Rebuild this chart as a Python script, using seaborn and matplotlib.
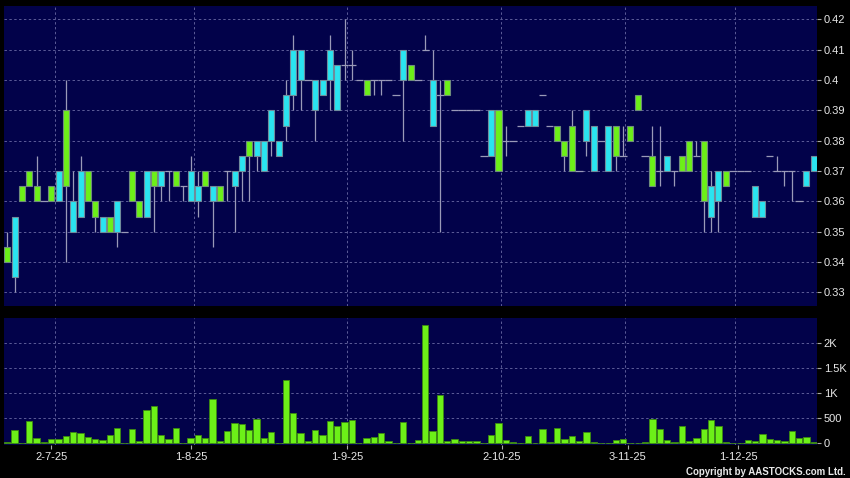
import numpy as np
import pandas as pd
import seaborn as sns
import matplotlib.pyplot as plt
from matplotlib.ticker import FuncFormatter

# daily OHLC (one entry per trading day shown)
opens = [.345, .335, .365, .37, .365, .36, .365, .36, .39, .35,
         .355, .37, .36, .35, .355, .35, .35, .37, .36, .355,
         .37, .365, .37, .37, .365, .36, .36, .37, .36, .365,
         .37, .365, .37, .38, .375, .37, .38, .375, .385, .395,
         .40, .40, .39, .395, .40, .39, .405, .405, .40, .40,
         .40, .40, .40, .395, .40, .405, .40, .41, .385, .395,
         .40, .39, .39, .39, .39, .375, .375, .39, .38, .38,
         .385, .385, .385, .395, .385, .385, .38, .385, .37, .38,
         .37, .38, .37, .385, .375, .385, .395, .375, .375, .37,
         .37, .37, .375, .38, .375, .38, .355, .36, .37, .37,
         .37, .37, .355, .355, .375, .37, .37, .37, .36, .365,
         .37]
highs = [.35, .355, .365, .37, .375, .36, .365, .37, .40, .37,
         .375, .37, .36, .355, .355, .36, .35, .37, .36, .37,
         .37, .37, .37, .37, .365, .375, .37, .37, .365, .365,
         .37, .37, .375, .38, .38, .38, .39, .38, .40, .415,
         .41, .40, .40, .40, .415, .405, .42, .41, .40, .40,
         .40, .40, .40, .395, .41, .405, .40, .415, .41, .40,
         .40, .39, .39, .39, .39, .375, .39, .39, .385, .38,
         .385, .39, .39, .395, .385, .385, .38, .39, .37, .39,
         .385, .38, .385, .385, .385, .385, .395, .375, .385, .385,
         .375, .37, .375, .38, .38, .38, .37, .37, .37, .37,
         .37, .37, .365, .36, .375, .375, .37, .37, .36, .37,
         .375]
lows = [.34, .33, .36, .365, .36, .36, .36, .36, .34, .35,
        .355, .36, .35, .35, .35, .345, .35, .36, .355, .355,
        .35, .36, .36, .365, .36, .36, .355, .365, .345, .36,
        .36, .35, .36, .36, .37, .37, .375, .375, .38, .39,
        .39, .40, .38, .395, .39, .39, .40, .40, .40, .395,
        .395, .395, .40, .395, .38, .40, .40, .41, .385, .35,
        .395, .39, .39, .39, .39, .375, .375, .37, .375, .38,
        .385, .385, .385, .395, .385, .38, .37, .37, .37, .375,
        .37, .38, .37, .37, .375, .38, .39, .375, .365, .365,
        .37, .365, .37, .37, .375, .35, .35, .35, .365, .37,
        .37, .37, .355, .355, .375, .37, .365, .36, .36, .365,
        .37]
closes = [.34, .355, .36, .365, .36, .36, .36, .37, .365, .36,
          .37, .36, .355, .355, .35, .36, .35, .36, .355, .37,
          .365, .37, .37, .365, .365, .37, .365, .365, .365, .36,
          .37, .37, .375, .375, .38, .38, .39, .38, .395, .41,
          .41, .40, .40, .40, .41, .405, .405, .405, .40, .395,
          .40, .40, .40, .395, .41, .40, .40, .41, .40, .395,
          .395, .39, .39, .39, .39, .375, .39, .37, .38, .38,
          .385, .39, .39, .395, .385, .38, .375, .37, .37, .39,
          .385, .38, .385, .375, .375, .38, .39, .375, .365, .37,
          .375, .37, .37, .37, .375, .36, .365, .37, .365, .37,
          .37, .37, .365, .36, .375, .37, .37, .37, .36, .37,
          .375]
volume = [27, 267, 13, 447, 100, 27, 93, 93, 153, 220,
          200, 127, 93, 60, 173, 300, 0, 293, 47, 667,
          747, 173, 87, 300, 0, 100, 160, 107, 880, 53,
          253, 407, 387, 267, 493, 113, 220, 3, 1267, 607,
          207, 40, 273, 167, 453, 340, 427, 467, 0, 100,
          120, 200, 47, 7, 427, 7, 60, 2360, 240, 953,
          53, 93, 47, 47, 47, 0, 173, 407, 60, 20,
          0, 147, 3, 280, 33, 300, 80, 140, 47, 227,
          33, 13, 3, 67, 87, 3, 3, 33, 493, 287,
          73, 20, 340, 40, 107, 287, 467, 340, 27, 13,
          0, 73, 53, 193, 93, 73, 53, 247, 113, 133,
          27]

date_labels = ['2-7-25', '1-8-25', '1-9-25', '2-10-25', '3-11-25', '1-12-25']
label_pos = [6.0, 25.1, 46.3, 67.45, 84.6, 99.7]
grid_pos = [6.55, 25.5, 46.4, 67.4, 84.3, 99.3]

df = pd.DataFrame({'i': np.arange(len(opens)), 'open': opens, 'high': highs,
                   'low': lows, 'close': closes, 'volume': volume})

BG = '#02024a'
GRID = '#5c5c98'
GREEN = '#6cf018'
CYAN = '#2ae4f0'
WICK = '#9a9ab8'
TXT = '#e8e8e8'

sns.set_theme(style='dark', rc={'axes.facecolor': BG, 'figure.facecolor': 'black'})
plt.rcParams['font.family'] = ['Liberation Sans', 'DejaVu Sans']

fig = plt.figure(figsize=(8.5, 4.78), dpi=100, facecolor='black')
ax1 = fig.add_axes([0.0047, 0.3598, 0.9561, 0.6276])
ax2 = fig.add_axes([0.0047, 0.0690, 0.9561, 0.2651])

# candles
up = df[df.close > df.open]
dn = df[df.close < df.open]
flat = df[df.close == df.open]

ax1.vlines(df.i, df.low, df.high, color=WICK, lw=0.9, zorder=2)
ax1.hlines(flat.close, flat.i - 0.5, flat.i + 0.5, color=WICK, lw=0.9, zorder=2)
ax1.bar(up.i, up.close - up.open, bottom=up.open, width=0.82, color=CYAN,
        edgecolor='#6f8c9c', linewidth=0.8, zorder=3)
ax1.bar(dn.i, dn.open - dn.close, bottom=dn.close, width=0.82, color=GREEN,
        edgecolor='#6f8c7c', linewidth=0.8, zorder=3)

# volume
sns.barplot(data=df, x='i', y='volume', native_scale=True, ax=ax2, color=GREEN,
            saturation=1, edgecolor='#3c8a10', linewidth=0.6, width=0.86,
            errorbar=None, zorder=3)

for ax in (ax1, ax2):
    ax.set_facecolor(BG)
    ax.set_xlim(-0.45, 110.4)
    for s in ax.spines.values():
        s.set_visible(False)
    ax.yaxis.tick_right()
    ax.tick_params(axis='y', colors=TXT, labelsize=8, length=3, width=0.8,
                   direction='out', pad=2, right=True, left=False)
    ax.tick_params(axis='y', color='#aaaaaa')
    ax.grid(axis='y', color=GRID, ls=(0, (2.5, 2.5)), lw=0.7)
    ax.grid(axis='x', visible=False)
    for g in grid_pos:
        ax.axvline(g, color=GRID, ls=(0, (2.5, 2.5)), lw=0.7, zorder=1)
    ax.set_xlabel('')
    ax.set_ylabel('')

ax1.set_ylim(0.3255, 0.4244)
ax1.set_yticks(np.arange(0.33, 0.4201, 0.01))
ax1.yaxis.set_major_formatter(FuncFormatter(lambda v, p: f'{round(v, 3):g}'))
ax1.set_xticks([])

ax2.set_ylim(-34, 2485)
ax2.set_yticks([0, 500, 1000, 1500, 2000])
ax2.yaxis.set_major_formatter(FuncFormatter(
    lambda v, p: '0' if v == 0 else ('500' if v == 500 else f'{v / 1000:g}K')))
ax2.set_xticks(label_pos)
ax2.set_xticklabels(date_labels)
ax2.tick_params(axis='x', colors=TXT, labelsize=8, length=3, width=0.8,
                pad=2, bottom=True)
ax2.tick_params(axis='x', color='#aaaaaa')

fig.text(0.995, 0.0126, 'Copyright by AASTOCKS.com Ltd.', ha='right', va='center',
         color=TXT, fontsize=7, fontweight='bold')

fig.savefig('out.png', dpi=100, facecolor='black')
